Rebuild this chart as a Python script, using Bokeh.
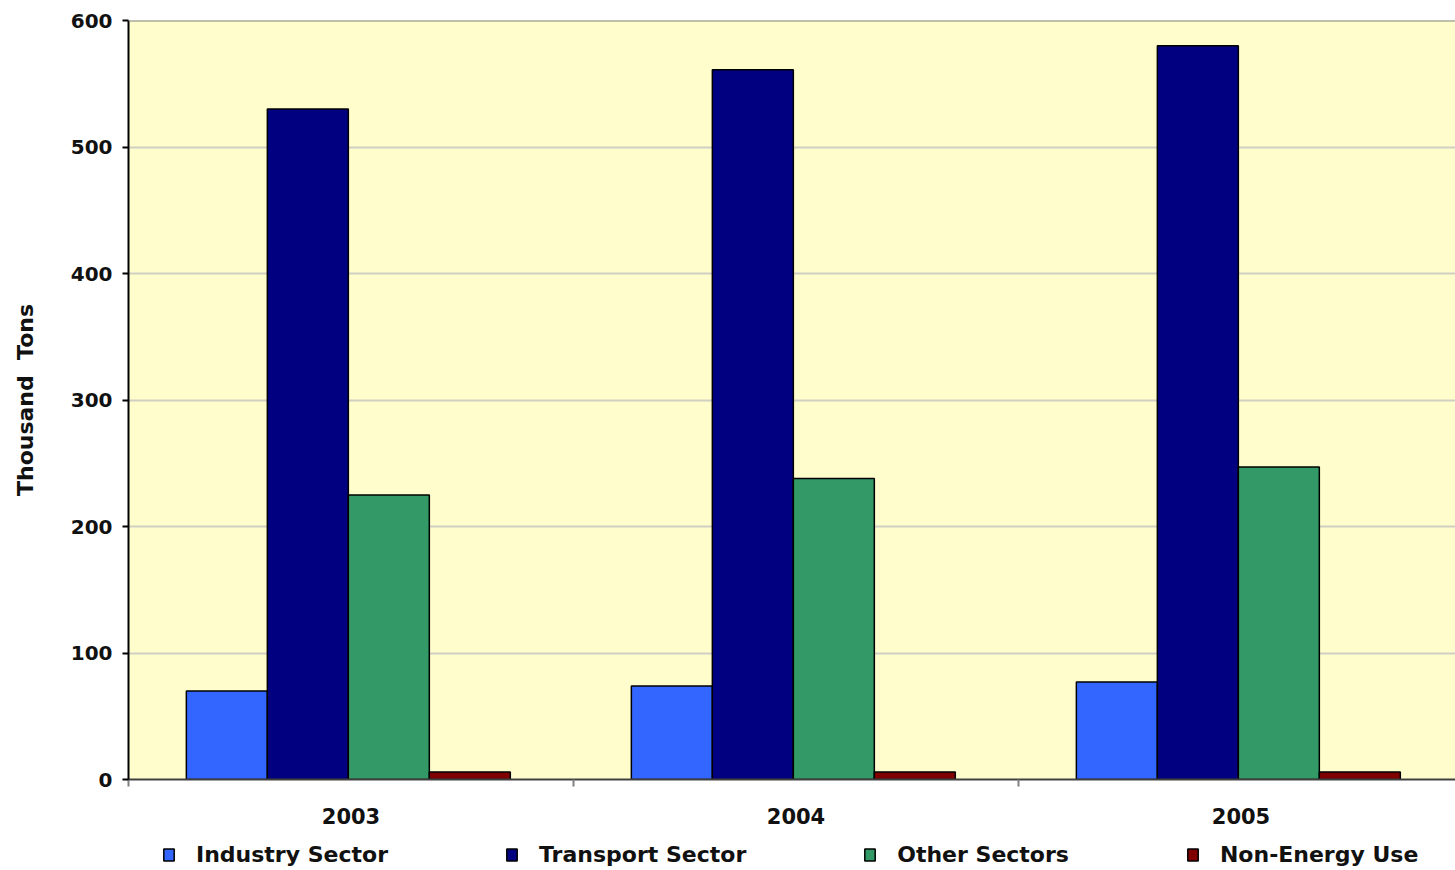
from bokeh.plotting import figure
from bokeh.layouts import column
from bokeh.models import ColumnDataSource, FixedTicker, Legend, LegendItem, Span, Range1d
from bokeh.embed import file_html
from bokeh.resources import INLINE

years = ["2003", "2004", "2005"]
industry = [70, 74, 77]
transport = [530, 561, 580]
other = [225, 238, 247]
non_energy = [6, 6, 6]
series_names = ["Industry Sector", "Transport Sector", "Other Sectors", "Non-Energy Use"]
series_values = [industry, transport, other, non_energy]
colors = ["#3366FF", "#000080", "#339966", "#800000"]
y_ticks = [0, 100, 200, 300, 400, 500, 600]

FONT = "DejaVu Sans"
bar_w = 0.182
offsets = [-0.273, -0.091, 0.091, 0.273]

p = figure(width=1455, height=832, output_backend="svg", toolbar_location=None,
           x_range=Range1d(0, 2.982), y_range=Range1d(0, 600),
           min_border_top=20, min_border_left=128, min_border_right=0, min_border_bottom=53)
p.background_fill_color = "#FFFDCC"
p.border_fill_color = "white"
p.outline_line_color = None

for name, vals, col, off in zip(series_names, series_values, colors, offsets):
    xs = [i + 0.494 + off for i in range(len(years))]
    src = ColumnDataSource(dict(x=xs, top=vals))
    p.vbar(x="x", top="top", bottom=0, width=bar_w, source=src,
           fill_color=col, line_color="black", line_width=1.5)

p.add_layout(Span(location=600, dimension="width", line_color="#808080", line_width=2))

# grid
p.xgrid.grid_line_color = None
p.ygrid.ticker = FixedTicker(ticks=y_ticks)
p.ygrid.grid_line_color = "#CFCFC4"
p.ygrid.grid_line_width = 2

# x axis
xa = p.xaxis[0]
xa.ticker = FixedTicker(ticks=[i + 0.5 for i in range(len(years))], minor_ticks=[0, 1, 2, 3])
xa.major_label_overrides = {i + 0.5: y for i, y in enumerate(years)}
xa.major_tick_line_color = None
xa.major_tick_out = 0
xa.major_tick_in = 0
xa.minor_tick_out = 7
xa.minor_tick_in = 0
xa.minor_tick_line_color = "#808080"
xa.minor_tick_line_width = 2
xa.axis_line_color = "#404040"
xa.axis_line_width = 2
xa.major_label_standoff = 21
xa.major_label_text_font = FONT
xa.major_label_text_font_style = "bold"
xa.major_label_text_font_size = "21px"
xa.major_label_text_color = "#111111"

# y axis
ya = p.yaxis[0]
ya.ticker = FixedTicker(ticks=y_ticks)
ya.major_tick_out = 6
ya.major_tick_in = 0
ya.minor_tick_line_color = None
ya.major_tick_line_color = "black"
ya.major_tick_line_width = 2
ya.axis_line_color = "black"
ya.axis_line_width = 2
ya.major_label_standoff = 10
ya.major_label_text_font = FONT
ya.major_label_text_font_style = "bold"
ya.major_label_text_font_size = "20px"
ya.major_label_text_color = "#111111"
ya.axis_label = "Thousand\u00a0\u00a0Tons"
ya.axis_label_standoff = 30
ya.axis_label_text_font = FONT
ya.axis_label_text_font_style = "bold"
ya.axis_label_text_font_size = "22px"
ya.axis_label_text_color = "#111111"

# legend strip below the chart; its swatch renderers are zero-size and hidden
# underneath the first legend swatch
pl = figure(width=1455, height=36, output_backend="svg", toolbar_location=None,
            x_range=Range1d(0, 1), y_range=Range1d(0, 1),
            min_border=0, outline_line_color=None)
pl.axis.visible = False
pl.grid.visible = False
pl.border_fill_color = "white"
pl.background_fill_color = "white"
items = []
for name, col in zip(series_names, colors):
    src = ColumnDataSource(dict(x=[0.0313], top=[0.333]))
    r = pl.vbar(x="x", top="top", bottom=0.333, width=0, source=src,
                fill_color=col, line_color="black", line_width=1.5)
    items.append(LegendItem(label=name, renderers=[r]))

legend = Legend(items=items, orientation="horizontal", location=(34, 1),
                glyph_width=13, glyph_height=15, label_standoff=21,
                spacing=117, padding=6, margin=0,
                border_line_color=None, background_fill_alpha=0,
                label_text_font=FONT, label_text_font_style="bold",
                label_text_font_size="22px", label_text_color="#111111")
pl.add_layout(legend)

layout = column(p, pl, spacing=0)
open("out.html", "w").write(file_html(layout, INLINE))
